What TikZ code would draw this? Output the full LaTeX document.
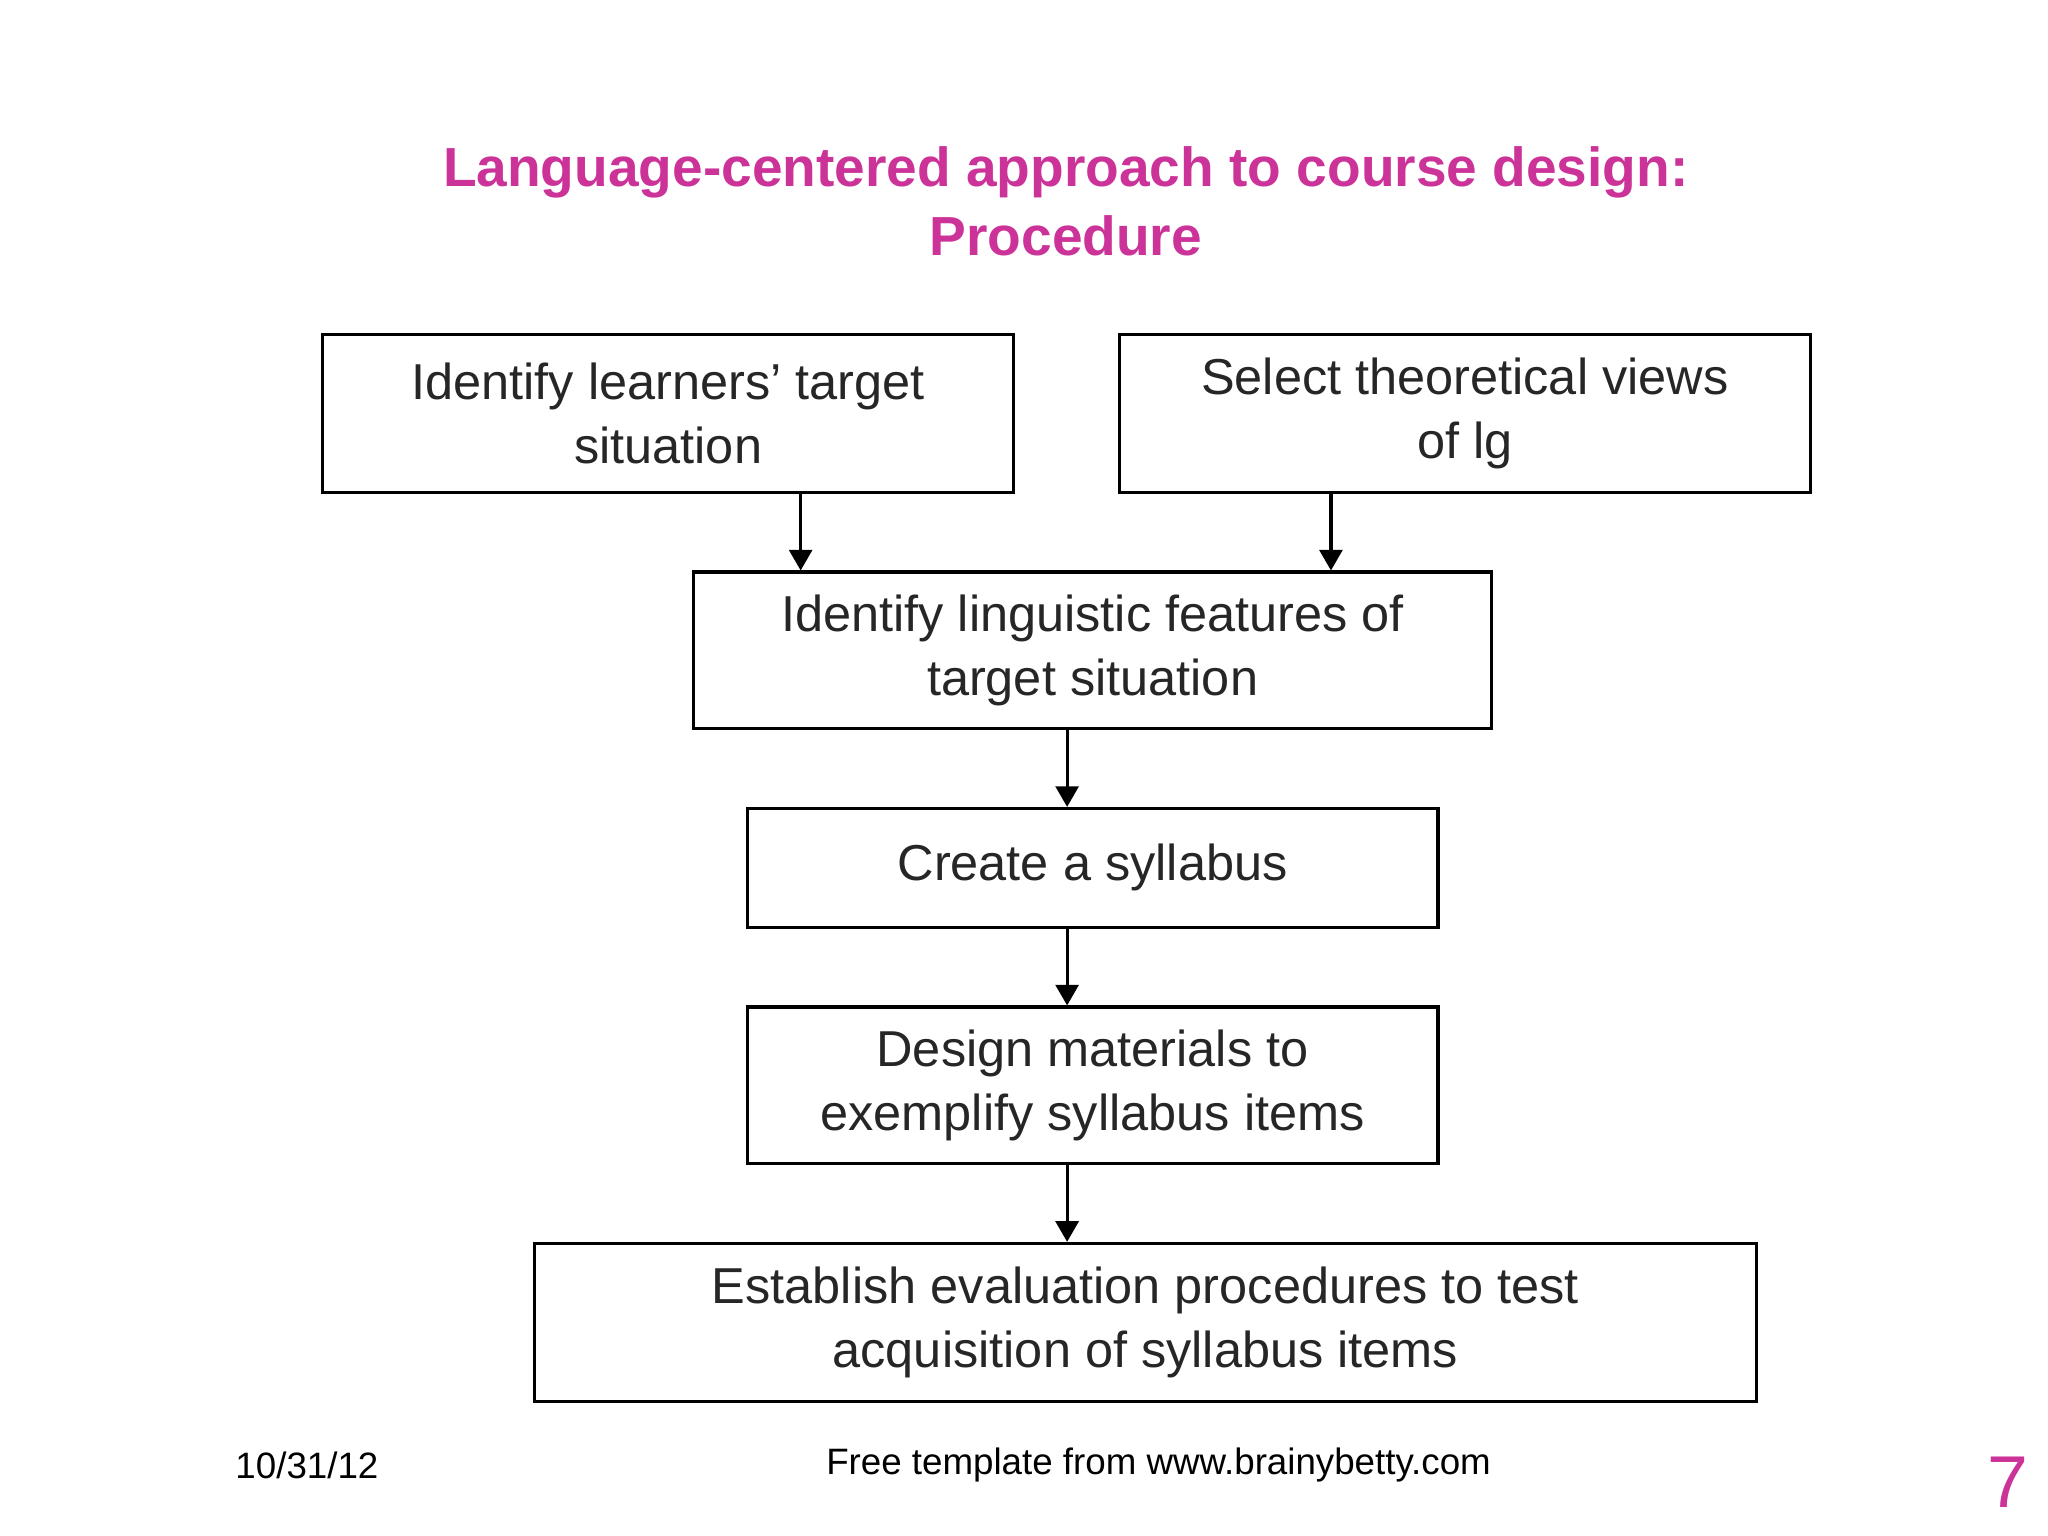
\documentclass[tikz,border=0pt]{standalone}
\usepackage{fontspec}
\setmainfont{Liberation Sans}
\usetikzlibrary{arrows.meta}
\definecolor{mag}{RGB}{204,51,153}
\begin{document}
\begin{tikzpicture}[x=0.02cm,y=-0.02cm,
 box/.style={draw,line width=1.4pt,align=center,inner sep=0pt,font=\fontsize{22}{28}\selectfont,text=black!85},
 arr/.style={-{Triangle[length=9pt,width=10pt]},line width=1.4pt}]
\useasboundingbox (0,0) rectangle (1568,1176);
\node[font=\bfseries\fontsize{24}{30}\selectfont,text=mag,align=center] (t) at (816,154) {Language-centered approach to course design:\\Procedure};
\node[box,minimum width=10.58cm,minimum height=2.42cm] (a) at (511.5,316.5) {Identify learners’ target\\situation};
\node[box,minimum width=10.58cm,minimum height=2.42cm] (b) at (1121.5,316.5) {Select theoretical views\\of lg};
\node[box,minimum width=12.22cm,minimum height=2.4cm] (c) at (836.5,498) {Identify linguistic features of\\target situation};
\node[box,minimum width=10.58cm,minimum height=1.82cm] (d) at (836.5,664.5) {Create a syllabus};
\node[box,minimum width=10.58cm,minimum height=2.4cm] (e) at (836.5,831) {Design materials to\\exemplify syllabus items};
\node[box,minimum width=18.72cm,minimum height=2.42cm] (f) at (877,1012.5) {Establish evaluation procedures to test\\acquisition of syllabus items};
\draw[arr] (a.south -| 613,0) -- (c.north -| 613,0);
\draw[arr] (b.south -| 1019,0) -- (c.north -| 1019,0);
\draw[arr] (c.south -| 817,0) -- (d.north -| 817,0);
\draw[arr] (d.south -| 817,0) -- (e.north -| 817,0);
\draw[arr] (e.south -| 817,0) -- (f.north -| 817,0);
\node[font=\fontsize{16}{20}\selectfont] (dt) at (235,1122) {10/31/12};
\node[font=\fontsize{16}{20}\selectfont] (ft) at (887,1122) {Free template from www.brainybetty.com};
\node[font=\fontsize{32}{36}\selectfont,text=mag] (n) at (1537,1135) {7};
\end{tikzpicture}
\end{document}
